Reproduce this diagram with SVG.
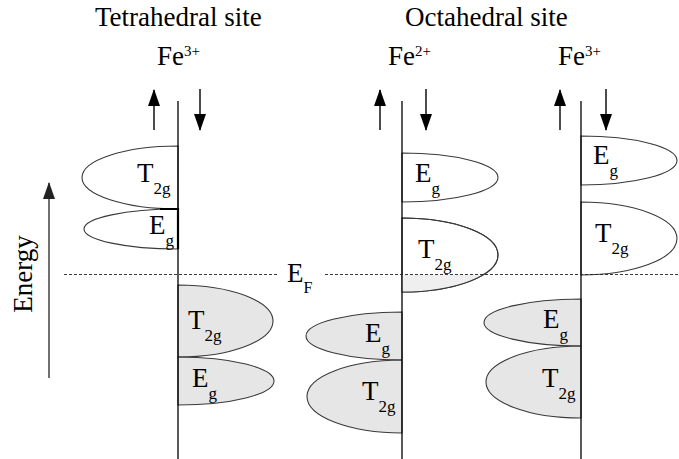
<svg xmlns="http://www.w3.org/2000/svg" width="679" height="459" viewBox="0 0 679 459">
<style>
text{font-family:"Liberation Serif","Times New Roman",serif;fill:#000}
.big{font-size:27px}
.sub{font-size:17px}
.sup{font-size:15px}
.axis{stroke:#000;stroke-width:1.3;fill:none}
.lobe{stroke:#3a3a3a;stroke-width:1.1;fill:#fff}
.lobe.filled{fill:#e6e6e6}
.arr{stroke:#000;stroke-width:1.4;fill:none}
.ef{stroke:#222;stroke-width:0.9;stroke-dasharray:3 2;fill:none}
</style>
<defs>
<marker id="head" markerUnits="userSpaceOnUse" viewBox="0 0 17 12" markerWidth="17" markerHeight="12" refX="16" refY="6" orient="auto">
<path d="M0,0 L17,6 L0,12 Z" fill="#000"/>
</marker>
<marker id="headGray" markerUnits="userSpaceOnUse" viewBox="0 0 17 12" markerWidth="17" markerHeight="12" refX="16" refY="6" orient="auto">
<path d="M0,0 L17,6 L0,12 Z" fill="#222"/>
</marker>
<clipPath id="belowEF"><rect x="0" y="275" width="679" height="184"/></clipPath>
</defs>

<rect width="679" height="459" fill="#fff"/>

<!-- titles -->
<g id="titles">
<text class="big" x="95" y="26">Tetrahedral site</text>
<text class="big" x="405" y="26">Octahedral site</text>
<text class="big" x="157" y="65">Fe<tspan class="sup" dy="-9">3+</tspan></text>
<text class="big" x="388" y="65">Fe<tspan class="sup" dy="-9">2+</tspan></text>
<text class="big" x="558" y="65">Fe<tspan class="sup" dy="-9">3+</tspan></text>
</g>

<!-- Tetrahedral Fe3+ -->
<g id="tet-t2g-up">
<path class="lobe" d="M178,146 A96,31.5 0 0 0 178,209 Z"/>
<text class="big" x="137" y="182">T<tspan class="sub" dy="12">2g</tspan></text>
</g>
<g id="tet-eg-up">
<path class="lobe" d="M178,209 A94,20 0 0 0 178,249 Z"/>
<path d="M160,209 L178,209 L178,249" stroke="#000" stroke-width="2.2" fill="none"/>
<text class="big" x="149" y="234">E<tspan class="sub" dy="12">g</tspan></text>
</g>
<g id="tet-t2g-down">
<path class="lobe filled" d="M178,285 A95,36 0 0 1 178,357 Z"/>
<text class="big" x="188" y="329">T<tspan class="sub" dy="12">2g</tspan></text>
</g>
<g id="tet-eg-down">
<path class="lobe filled" d="M178,357 A96,24 0 0 1 178,405 Z"/>
<text class="big" x="192" y="387">E<tspan class="sub" dy="12">g</tspan></text>
</g>

<!-- Octahedral Fe2+ -->
<g id="oct2-eg-down">
<path class="lobe" d="M402,153 A96,24.5 0 0 1 402,202 Z"/>
<text class="big" x="415" y="182">E<tspan class="sub" dy="12">g</tspan></text>
</g>
<g id="oct2-t2g-down">
<path class="lobe" d="M402,218 A96,37 0 0 1 402,292 Z"/>
<path d="M402,218 A96,37 0 0 1 402,292 Z" fill="#efefef" stroke="none" clip-path="url(#belowEF)"/>
<path d="M402,218 A96,37 0 0 1 402,292" fill="none" stroke="#3a3a3a" stroke-width="1.1"/>
<text class="big" x="418" y="258">T<tspan class="sub" dy="12">2g</tspan></text>
</g>
<g id="oct2-eg-up">
<path class="lobe filled" d="M402,312 A96,24 0 0 0 402,360 Z"/>
<text class="big" x="365" y="342">E<tspan class="sub" dy="12">g</tspan></text>
</g>
<g id="oct2-t2g-up">
<path class="lobe filled" d="M402,360 A95,36.5 0 0 0 402,433 Z"/>
<text class="big" x="362" y="400">T<tspan class="sub" dy="12">2g</tspan></text>
</g>

<!-- Octahedral Fe3+ -->
<g id="oct3-eg-down">
<path class="lobe" d="M581,136 A96,24.5 0 0 1 581,185 Z"/>
<text class="big" x="593" y="164">E<tspan class="sub" dy="12">g</tspan></text>
</g>
<g id="oct3-t2g-down">
<path class="lobe" d="M581,202 A96,36.5 0 0 1 581,275 Z"/>
<text class="big" x="595" y="242">T<tspan class="sub" dy="12">2g</tspan></text>
</g>
<g id="oct3-eg-up">
<path class="lobe filled" d="M581,299 A97,23.5 0 0 0 581,346 Z"/>
<text class="big" x="543" y="328">E<tspan class="sub" dy="12">g</tspan></text>
</g>
<g id="oct3-t2g-up">
<path class="lobe filled" d="M581,346 A95,36 0 0 0 581,418 Z"/>
<text class="big" x="542" y="387">T<tspan class="sub" dy="12">2g</tspan></text>
</g>

<!-- axes -->
<g id="axes">
<line class="axis" x1="178" y1="101" x2="178" y2="459"/>
<line class="axis" x1="402" y1="101" x2="402" y2="459"/>
<line class="axis" x1="581" y1="101" x2="581" y2="459"/>
</g>

<!-- Fermi level -->
<g id="fermi">
<line class="ef" x1="64" y1="274.5" x2="278" y2="274.5"/>
<line class="ef" x1="325" y1="274.5" x2="679" y2="274.5"/>
<text class="big" x="287" y="282">E<tspan font-size="16" dy="11">F</tspan></text>
</g>

<!-- energy axis -->
<g id="energy">
<text class="big" transform="translate(32,274) rotate(-90)" text-anchor="middle">Energy</text>
</g>

<!-- connectors: spin arrows and energy arrow -->
<g id="connectors">
<line class="arr" x1="154" y1="130" x2="154" y2="90" marker-end="url(#head)"/>
<line class="arr" x1="200" y1="89" x2="200" y2="130" marker-end="url(#head)"/>
<line class="arr" x1="380" y1="130" x2="380" y2="90" marker-end="url(#head)"/>
<line class="arr" x1="426" y1="89" x2="426" y2="130" marker-end="url(#head)"/>
<line class="arr" x1="560" y1="130" x2="560" y2="90" marker-end="url(#head)"/>
<line class="arr" x1="606" y1="89" x2="606" y2="130" marker-end="url(#head)"/>
<line x1="49" y1="378" x2="49" y2="183" stroke="#222" stroke-width="1.3" marker-end="url(#headGray)"/>
</g>
</svg>
